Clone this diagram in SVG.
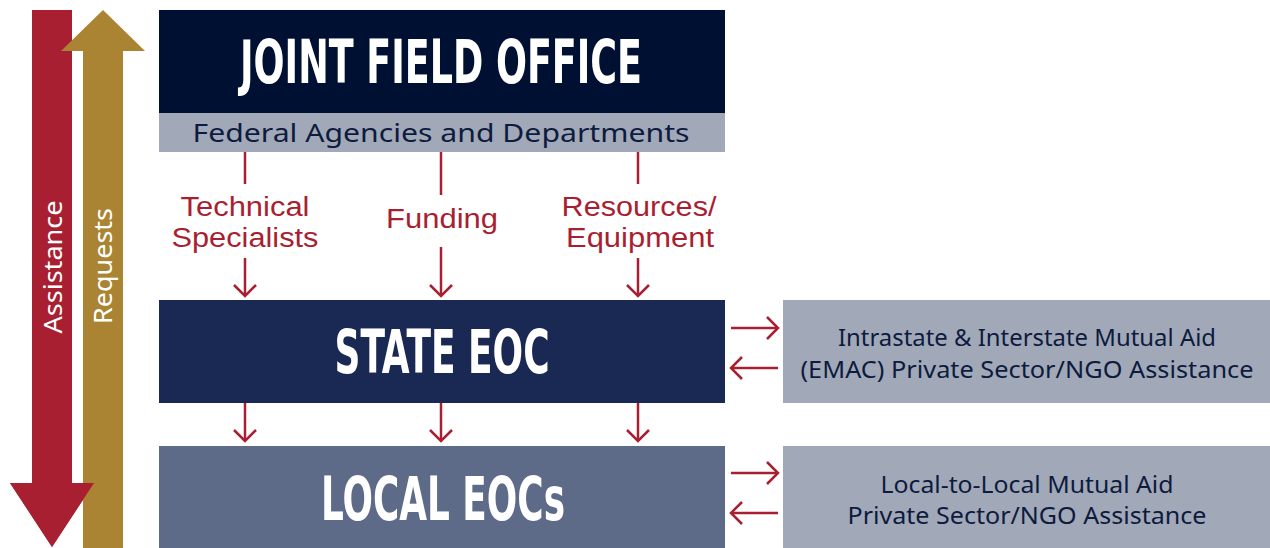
<svg xmlns="http://www.w3.org/2000/svg" width="1270" height="548" viewBox="0 0 1270 548">
<defs>
<style>
.title{font-family:"Liberation Sans Narrow","DejaVu Sans Condensed","Liberation Sans",sans-serif;font-weight:bold;font-size:60px;fill:#ffffff;text-anchor:middle}
.body{font-family:"Noto Sans","Liberation Sans",sans-serif;fill:#0e1b3e;text-anchor:middle}
.lbl{font-family:"Liberation Sans","Noto Sans",sans-serif;font-size:27px;fill:#a91f32;text-anchor:middle}
.side{font-family:"Noto Sans","Liberation Sans",sans-serif;font-size:26px;fill:#ffffff;text-anchor:middle}
.conn line{stroke:#a91f32;stroke-width:2.5;fill:none}
.arr{marker-end:url(#chev)}
</style>
<marker id="chev" markerUnits="userSpaceOnUse" markerWidth="30" markerHeight="30" viewBox="-15 -15 30 30" refX="0" refY="0" orient="auto">
<path d="M-11,-11 L0,0 L-11,11" fill="none" stroke="#a91f32" stroke-width="2.5"/>
</marker>
</defs>
<rect width="1270" height="548" fill="#ffffff"/>

<g id="flow-arrows">
<polygon points="32,10 72,10 72,483 94,483 52,547 10,483 32,483" fill="#a91f32"/>
<polygon points="103,10 145,51 123,51 123,548 83,548 83,51 61,51" fill="#aa8432"/>
<polygon points="72,483 94,483 52,547 10,483" fill="#a91f32"/>
<text class="side" transform="translate(62,267) rotate(-90)" textLength="133" lengthAdjust="spacingAndGlyphs">Assistance</text>
<text class="side" transform="translate(112,266) rotate(-90)" textLength="116" lengthAdjust="spacingAndGlyphs">Requests</text>
</g>

<g id="jfo">
<rect x="159" y="10" width="566" height="103" fill="#001033"/>
<rect x="159" y="113" width="566" height="39" fill="#a1a9b8"/>
<text class="title" x="441" y="83" textLength="402" lengthAdjust="spacingAndGlyphs">JOINT FIELD OFFICE</text>
<text class="body" x="441" y="142" font-size="26" textLength="497" lengthAdjust="spacingAndGlyphs">Federal Agencies and Departments</text>
</g>

<g id="state-eoc">
<rect x="159" y="300" width="566" height="103" fill="#1a2953"/>
<text class="title" x="442" y="373" textLength="215" lengthAdjust="spacingAndGlyphs">STATE EOC</text>
</g>

<g id="local-eocs">
<rect x="159" y="446" width="566" height="102" fill="#5d6b88"/>
<text class="title" x="443" y="520" textLength="244" lengthAdjust="spacingAndGlyphs">LOCAL EOCs</text>
</g>

<g id="state-partners">
<rect x="783" y="300" width="487" height="103" fill="#a1a9b8"/>
<text class="body" x="1027" y="346" font-size="23" textLength="378" lengthAdjust="spacingAndGlyphs">Intrastate &amp; Interstate Mutual Aid</text>
<text class="body" x="1027" y="378" font-size="23" textLength="453" lengthAdjust="spacingAndGlyphs">(EMAC) Private Sector/NGO Assistance</text>
</g>

<g id="local-partners">
<rect x="783" y="446" width="487" height="102" fill="#a1a9b8"/>
<text class="body" x="1027" y="493" font-size="23" textLength="293" lengthAdjust="spacingAndGlyphs">Local-to-Local Mutual Aid</text>
<text class="body" x="1027" y="524" font-size="23" textLength="359" lengthAdjust="spacingAndGlyphs">Private Sector/NGO Assistance</text>
</g>

<g id="connectors" class="conn">
<line x1="245" y1="152" x2="245" y2="184"/>
<line x1="441" y1="152" x2="441" y2="195"/>
<line x1="638" y1="152" x2="638" y2="184"/>
<line class="arr" x1="245" y1="258" x2="245" y2="296"/>
<line class="arr" x1="441" y1="247" x2="441" y2="296"/>
<line class="arr" x1="638" y1="258" x2="638" y2="296"/>
<line class="arr" x1="245" y1="403" x2="245" y2="441"/>
<line class="arr" x1="441" y1="403" x2="441" y2="441"/>
<line class="arr" x1="638" y1="403" x2="638" y2="441"/>
<line class="arr" x1="731" y1="328" x2="778" y2="328"/>
<line class="arr" x1="778" y1="368" x2="731" y2="368"/>
<line class="arr" x1="731" y1="473" x2="778" y2="473"/>
<line class="arr" x1="778" y1="513" x2="731" y2="513"/>
</g>

<g id="connector-labels">
<text class="lbl" x="245" y="216" textLength="129" lengthAdjust="spacingAndGlyphs">Technical</text>
<text class="lbl" x="245" y="247" textLength="147" lengthAdjust="spacingAndGlyphs">Specialists</text>
<text class="lbl" x="442" y="228" textLength="112" lengthAdjust="spacingAndGlyphs">Funding</text>
<text class="lbl" x="639" y="216" textLength="155" lengthAdjust="spacingAndGlyphs">Resources/</text>
<text class="lbl" x="640" y="247" textLength="148" lengthAdjust="spacingAndGlyphs">Equipment</text>
</g>
</svg>
